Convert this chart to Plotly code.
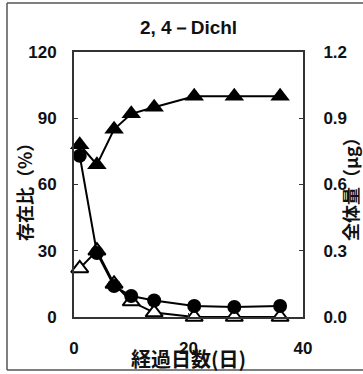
import plotly.graph_objects as go

days = [1, 4, 7, 10, 14, 21, 28, 36]
total_ug = [0.78, 0.69, 0.85, 0.92, 0.95, 1.00, 1.00, 1.00]
parent_pct = [73, 29, 14, 9.5, 7.5, 5, 4.5, 5]
metab_pct = [22, 30, 15, 7, 2, 0, 0, 0]

title_text = "2, 4－Dichl"
xlabel = "経過日数(日)"
ylabel_left = "存在比（%）"
ylabel_right = "全体量（μg）"

W, H = 363, 374
L, R, T, B = 74, 303, 52, 317
pw, ph = R - L, B - T

def px(x):
    return (x - L) / pw

def py(y):
    return (B - y) / ph

num_font = dict(family="Liberation Sans, Arial", size=17, color="#111", weight="bold")
cjk = "Noto Sans CJK JP"

fig = go.Figure()
fig.add_trace(go.Scatter(
    x=days, y=metab_pct, mode="lines+markers",
    line=dict(color="black", width=2),
    marker=dict(symbol="triangle-up", size=15, color="white",
                line=dict(color="black", width=2)),
    cliponaxis=False, showlegend=False))
fig.add_trace(go.Scatter(
    x=days, y=parent_pct, mode="lines+markers",
    line=dict(color="black", width=2),
    marker=dict(symbol="circle", size=14, color="black"),
    cliponaxis=False, showlegend=False))
fig.add_trace(go.Scatter(
    x=days, y=total_ug, mode="lines+markers", yaxis="y2",
    line=dict(color="black", width=2),
    marker=dict(symbol="triangle-up", size=17, color="black"),
    cliponaxis=False, showlegend=False))

axis_common = dict(showline=True, linecolor="#333", linewidth=2,
                   ticks="inside", ticklen=4, tickcolor="#333",
                   showgrid=False, zeroline=False, tickfont=num_font)

def ann(text, x, y, size, family, angle=0):
    return dict(text=f"<b>{text}</b>", x=px(x), y=py(y), xref="paper", yref="paper",
                xanchor="center", yanchor="middle", showarrow=False, textangle=angle,
                font=dict(family=family, size=size, color="#111"))

fig.update_layout(
    width=W, height=H,
    margin=dict(l=L, r=W - R, t=T, b=H - B, pad=0),
    paper_bgcolor="white", plot_bgcolor="white",
    xaxis=dict(range=[0, 40], tickvals=[0, 20, 40], mirror=True,
               ticklabelstandoff=15, **axis_common),
    yaxis=dict(range=[0, 120], tickvals=[0, 30, 60, 90, 120], mirror=True,
               ticklabelstandoff=12, **axis_common),
    yaxis2=dict(range=[0, 1.2], tickvals=[0, 0.3, 0.6, 0.9, 1.2],
                ticktext=["0.0", "0.3", "0.6", "0.9", "1.2"],
                overlaying="y", side="right", ticklabelstandoff=15,
                **axis_common),
    annotations=[
        ann(title_text, 188, 27, 19, "Liberation Sans, Arial"),
        ann(xlabel, 188, 358, 20, cjk),
        ann(ylabel_left, 24, 188, 18, cjk, -90),
        ann(ylabel_right, 350, 185, 18, cjk, -90),
    ],
    shapes=[
        dict(type="line", xref="paper", yref="paper", x0=px(7), x1=px(370), y0=py(3), y1=py(3),
             line=dict(color="#555", width=1.5)),
        dict(type="line", xref="paper", yref="paper", x0=px(7), x1=px(7), y0=py(3), y1=py(370),
             line=dict(color="#555", width=1.5)),
        dict(type="line", xref="paper", yref="paper", x0=px(7), x1=px(370), y0=py(370), y1=py(370),
             line=dict(color="#555", width=1.5)),
    ],
)

fig.write_html("out.html")
